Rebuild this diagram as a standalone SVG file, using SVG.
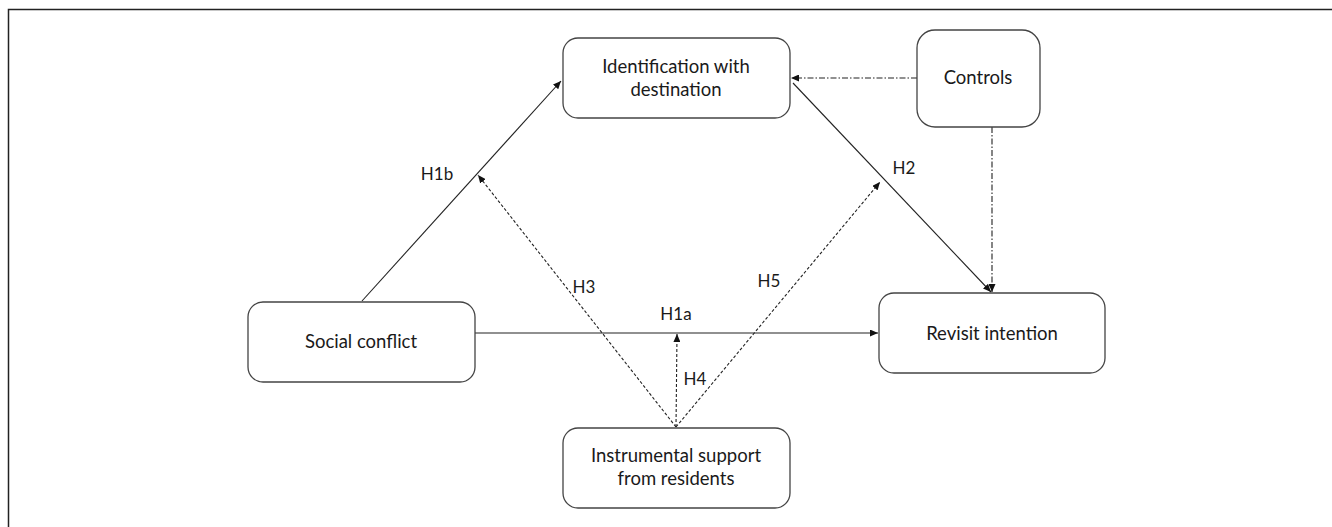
<svg xmlns="http://www.w3.org/2000/svg" width="1332" height="527" viewBox="0 0 1332 527">
<defs>
<style>
.node rect{fill:#fff;stroke:#444;stroke-width:1.3}
.node text,.lbl{font-family:Lato,"Open Sans","Liberation Sans",sans-serif;fill:#1a1a1a;text-anchor:middle}
.node text{font-size:18.5px}
.lbl{font-size:17px}
.c{fill:none;stroke:#222;stroke-width:1.1}
.dash{stroke-dasharray:3 2}
.dd{stroke-dasharray:6 2 1.5 2}
</style>
<marker id="ah" markerUnits="userSpaceOnUse" markerWidth="9" markerHeight="7" refX="8" refY="3.5" orient="auto">
<path d="M0,0 L8,3.5 L0,7 z" fill="#111"/>
</marker>
</defs>
<rect width="1332" height="527" fill="#fff"/>
<path d="M8.5,527 V9.5 H1332" fill="none" stroke="#222" stroke-width="1.5"/>
<g id="connectors">
<path class="c" d="M362,301 L561,81" marker-end="url(#ah)"/>
<path class="c" d="M475,333 L878,333" marker-end="url(#ah)"/>
<path class="c" d="M793,83 L991,292" marker-end="url(#ah)"/>
<path class="c dash" d="M676,427 L478,175" marker-end="url(#ah)"/>
<path class="c dash" d="M676,427 L677,334" marker-end="url(#ah)"/>
<path class="c dash" d="M676,427 L880,182" marker-end="url(#ah)"/>
<path class="c dd" d="M917,78 L791,78" marker-end="url(#ah)"/>
<path class="c dd" d="M992,127 L992,292" marker-end="url(#ah)"/>
<text class="lbl" x="437" y="180">H1b</text>
<text class="lbl" x="904" y="174">H2</text>
<text class="lbl" x="584" y="293">H3</text>
<text class="lbl" x="769" y="287">H5</text>
<text class="lbl" x="676" y="320">H1a</text>
<text class="lbl" x="695" y="385">H4</text>
</g>
<g id="identification" class="node">
<rect x="563" y="38" width="227" height="80" rx="15"/>
<text x="676" y="73">Identification with</text>
<text x="676" y="96">destination</text>
</g>
<g id="controls" class="node">
<rect x="917" y="30" width="123" height="97" rx="18"/>
<text x="978" y="84">Controls</text>
</g>
<g id="social" class="node">
<rect x="248" y="302" width="227" height="80" rx="15"/>
<text x="361" y="348">Social conflict</text>
</g>
<g id="revisit" class="node">
<rect x="879" y="293" width="226" height="80" rx="15"/>
<text x="992" y="340">Revisit intention</text>
</g>
<g id="instrumental" class="node">
<rect x="563" y="428" width="227" height="80" rx="15"/>
<text x="676" y="462">Instrumental support</text>
<text x="676" y="485">from residents</text>
</g>
</svg>
